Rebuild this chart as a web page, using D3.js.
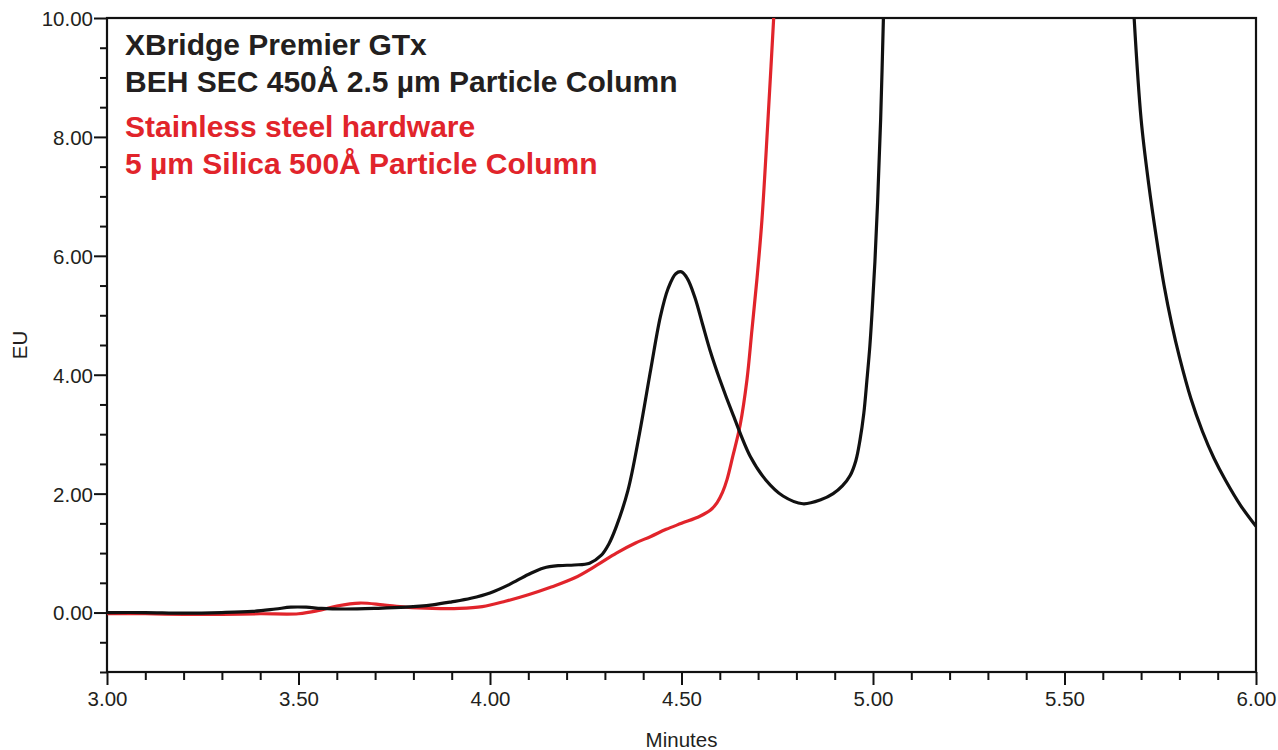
<!DOCTYPE html>
<html>
<head>
<meta charset="utf-8">
<script src="https://cdn.jsdelivr.net/npm/d3@7"></script>
<style>
  html, body { margin: 0; padding: 0; background: #fff; }
  svg { display: block; }
  text { font-family: "Liberation Sans", Arial, Helvetica, sans-serif; }
</style>
</head>
<body>
<svg id="chart" width="1278" height="750"></svg>
<script>
// ---- Data ----
const blackTimes = [3.00,3.10,3.20,3.30,3.38,3.44,3.48,3.52,3.56,3.62,3.70,3.78,3.85,3.90,3.95,4.00,4.05,4.10,4.14,4.18,4.22,4.26,4.29,4.31,4.33,4.36,4.39,4.42,4.445,4.465,4.485,4.50,4.515,4.535,4.555,4.575,4.60,4.635,4.68,4.72,4.765,4.817,4.865,4.896,4.92,4.94,4.955,4.966,4.976,4.984,4.992,4.998,5.005,5.012,5.020,5.028,
                    5.35,
                    5.68,5.70,5.72,5.74,5.76,5.78,5.80,5.83,5.86,5.89,5.92,5.96,6.00];
const blackValues = [0.00,0.00,-0.01,0.00,0.02,0.06,0.09,0.09,0.07,0.06,0.07,0.09,0.13,0.18,0.24,0.33,0.47,0.64,0.75,0.79,0.80,0.83,0.96,1.15,1.45,2.05,3.00,4.10,4.98,5.45,5.70,5.73,5.62,5.30,4.85,4.40,3.92,3.32,2.62,2.23,1.96,1.83,1.90,2.00,2.13,2.30,2.55,2.90,3.35,3.90,4.50,5.10,5.90,6.90,8.30,10.20,
                     null,
                     10.20,8.30,7.20,6.30,5.50,4.85,4.30,3.60,3.05,2.60,2.23,1.80,1.45];
const redTimes = [3.00,3.10,3.20,3.30,3.40,3.50,3.55,3.60,3.66,3.72,3.78,3.85,3.92,3.98,4.04,4.10,4.16,4.22,4.28,4.33,4.38,4.42,4.46,4.50,4.548,4.575,4.593,4.607,4.619,4.634,4.653,4.671,4.684,4.697,4.710,4.725,4.745];
const redValues = [-0.02,-0.02,-0.03,-0.03,-0.02,-0.02,0.03,0.11,0.16,0.13,0.09,0.07,0.07,0.10,0.19,0.30,0.43,0.58,0.80,1.00,1.17,1.28,1.40,1.50,1.62,1.72,1.85,2.02,2.24,2.63,3.15,3.92,4.76,5.61,6.60,8.20,10.50];

const xMajorTicks = [3.0,3.5,4.0,4.5,5.0,5.5,6.0];
const xMinorTicks = [3.1,3.2,3.3,3.4,3.6,3.7,3.8,3.9,4.1,4.2,4.3,4.4,4.6,4.7,4.8,4.9,5.1,5.2,5.3,5.4,5.6,5.7,5.8,5.9];
const yMajorTicks = [0,2,4,6,8,10];
const yMinorTicks = [-1,-0.5,0.5,1,1.5,2.5,3,3.5,4.5,5,5.5,6.5,7,7.5,8.5,9,9.5];

const xLabel = "Minutes";
const yLabel = "EU";
const annotations = [
  {text: "XBridge Premier GTx", series: "black"},
  {text: "BEH SEC 450Å 2.5 µm Particle Column", series: "black"},
  {text: "Stainless steel hardware", series: "red"},
  {text: "5 µm Silica 500Å Particle Column", series: "red"}
];

// ---- Layout ----
const svg = d3.select("#chart");
const L = 107, R = 1256, T = 18, B = 672;
const x = d3.scaleLinear().domain([3, 6]).range([L, R]);
const y = d3.scaleLinear().domain([-1, 10]).range([B, T]);
const colors = {black: "#111111", red: "#e1242b"};
const textColors = {black: "#231f20", red: "#e1242b"};

svg.append("defs").append("clipPath").attr("id", "plotclip")
  .append("rect").attr("x", L).attr("y", T).attr("width", R - L).attr("height", B - T);

// Axes
const fmt = d3.format(".2f");
const xAxisMajor = d3.axisBottom(x).tickValues(xMajorTicks).tickFormat(fmt).tickSize(13).tickPadding(6);
const xAxisMinor = d3.axisBottom(x).tickValues(xMinorTicks).tickFormat("").tickSize(8);
const yAxisMajor = d3.axisLeft(y).tickValues(yMajorTicks).tickFormat(fmt).tickSize(13).tickPadding(1);
const yAxisMinor = d3.axisLeft(y).tickValues(yMinorTicks).tickFormat("").tickSize(7);

function styleAxis(g) {
  g.select(".domain").remove();
  g.selectAll(".tick line").attr("stroke", "#111").attr("stroke-width", 2);
  g.selectAll(".tick text").attr("fill", "#231f20").attr("font-size", 20.5)
    .style("font-family", '"Liberation Sans", Arial, sans-serif');
}
svg.append("g").attr("transform", `translate(0,${B})`).call(xAxisMinor).call(styleAxis);
svg.append("g").attr("transform", `translate(0,${B})`).call(xAxisMajor).call(styleAxis);
svg.append("g").attr("transform", `translate(${L},0)`).call(yAxisMinor).call(styleAxis);
svg.append("g").attr("transform", `translate(${L},0)`).call(yAxisMajor).call(styleAxis)
  .selectAll(".tick text").attr("dy", "0.36em");

// Frame
svg.append("rect").attr("x", L).attr("y", T).attr("width", R - L).attr("height", B - T)
  .attr("fill", "none").attr("stroke", "#111").attr("stroke-width", 2.2);

// Axis titles
svg.append("text").attr("x", (L + R) / 2).attr("y", 747).attr("text-anchor", "middle")
  .attr("font-size", 20.5).attr("fill", "#231f20").text(xLabel);
svg.append("text").attr("transform", `translate(27,${(T + B) / 2}) rotate(-90)`)
  .attr("text-anchor", "middle").attr("font-size", 20.5).attr("fill", "#231f20").text(yLabel);

// Lines
const line = d3.line()
  .defined(d => d[1] !== null)
  .x(d => x(d[0])).y(d => y(d[1]))
  .curve(d3.curveCatmullRom.alpha(0.5));

const plot = svg.append("g").attr("clip-path", "url(#plotclip)");
const redData = redTimes.map((t, i) => [t, redValues[i]]);
const blackData = blackTimes.map((t, i) => [t, blackValues[i]]);
plot.append("path").datum(redData).attr("d", line)
  .attr("fill", "none").attr("stroke", colors.red).attr("stroke-width", 3.2)
  .attr("stroke-linejoin", "round");
plot.append("path").datum(blackData).attr("d", line)
  .attr("fill", "none").attr("stroke", colors.black).attr("stroke-width", 3.2)
  .attr("stroke-linejoin", "round");

// Annotations
const baselines = [55, 92, 137, 174];
annotations.forEach((a, i) => {
  svg.append("text").attr("x", 125).attr("y", baselines[i])
    .attr("font-size", 30).attr("font-weight", "bold")
    .attr("fill", textColors[a.series]).text(a.text);
});
</script>
</body>
</html>
